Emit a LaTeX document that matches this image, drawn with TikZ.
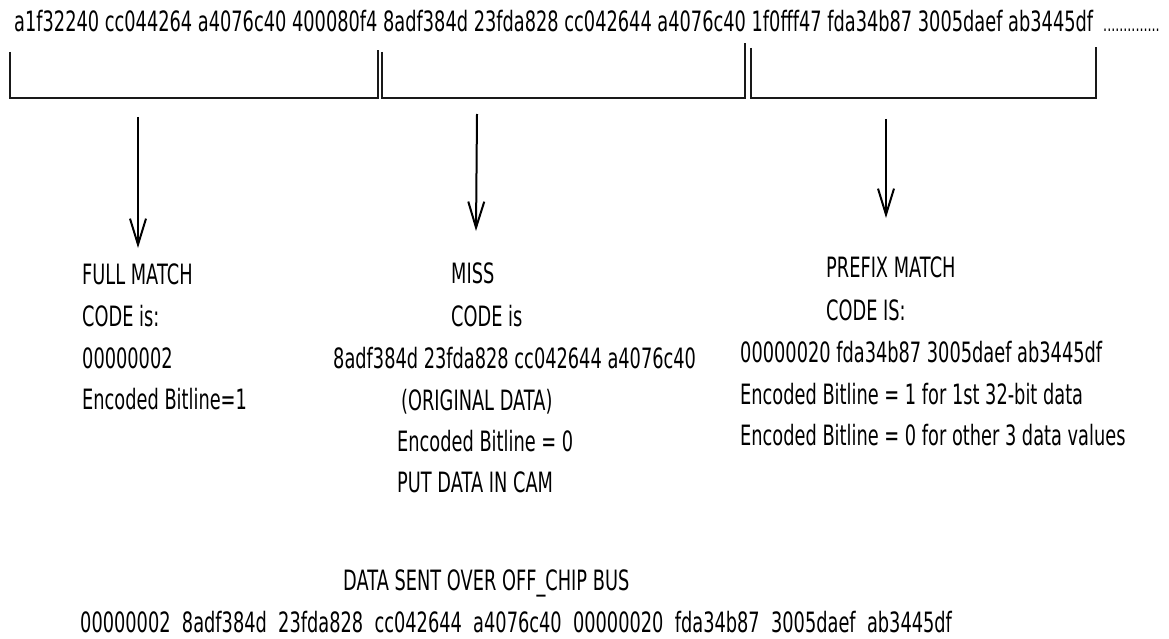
\documentclass[tikz,border=0pt]{standalone}
\usepackage{fontspec}
\setmainfont{DejaVu Sans}[FakeStretch=0.635]
\usetikzlibrary{arrows.meta}

\tikzset{
  txt/.style={anchor=base west, inner sep=0pt, font=\fontsize{28}{30}\selectfont},
  brk/.style={line width=2.8pt, line join=miter, black!90},
  down/.style={line width=2pt, -{Straight Barb[length=26pt,width=16pt,line width=2pt]}},
}

\begin{document}
\begin{tikzpicture}[x=1pt, y=-1pt]
  \useasboundingbox (0,0) rectangle (1169,639);

  % stream of 32-bit words
  \node[txt] (stream) at (14,32)
    {a1f32240 cc044264 a4076c40 400080f4 8adf384d 23fda828 cc042644 a4076c40 1f0fff47 fda34b87 3005daef ab3445df};
  \node[txt, font=\fontsize{20}{22}\selectfont] (more) at (1103,32) {..............};

  % groups of four words
  \draw[brk] (10,52) -- (10,98) -- (378,98) -- (378,50);
  \draw[brk] (382,52) -- (382,98) -- (745,98) -- (745,43);
  \draw[brk] (751,48) -- (751,98) -- (1096,98) -- (1096,47);

  % full match
  \coordinate (f1s) at (138,117);
  \coordinate (f1e) at (138,248);
  \node[txt] (full1) at (82,284) {FULL MATCH};
  \node[txt] (full2) at (82,326) {CODE is:};
  \node[txt] (full3) at (82,368) {00000002};
  \node[txt] (full4) at (82,409) {Encoded Bitline=1};

  % miss
  \coordinate (m1s) at (477,114);
  \coordinate (m1e) at (476,231);
  \node[txt] (miss1) at (451,283) {MISS};
  \node[txt] (miss2) at (451,326) {CODE is};
  \node[txt] (miss3) at (333,368) {8adf384d 23fda828 cc042644 a4076c40};
  \node[txt] (miss4) at (401,410) {(ORIGINAL DATA)};
  \node[txt] (miss5) at (397,451) {Encoded Bitline = 0};
  \node[txt] (miss6) at (397,492) {PUT DATA IN CAM};

  % prefix match
  \coordinate (p1s) at (886,119);
  \coordinate (p1e) at (886,218);
  \node[txt] (pre1) at (826,277) {PREFIX MATCH};
  \node[txt] (pre2) at (826,320) {CODE IS:};
  \node[txt] (pre3) at (740,362) {00000020 fda34b87 3005daef ab3445df};
  \node[txt] (pre4) at (740,404) {Encoded Bitline = 1 for 1st 32-bit data};
  \node[txt] (pre5) at (740,445) {Encoded Bitline = 0 for other 3 data values};

  \draw[down] (f1s) -- (f1e);
  \draw[down] (m1s) -- (m1e);
  \draw[down] (p1s) -- (p1e);

  % what goes out on the bus
  \node[txt] (bus) at (343,590) {DATA SENT OVER OFF\_CHIP BUS};
  \node[txt] (busdata) at (80,632)
    {00000002\ \ 8adf384d\ \ 23fda828\ \ cc042644\ \ a4076c40\ \ 00000020\ \ fda34b87\ \ 3005daef\ \ ab3445df};
\end{tikzpicture}
\end{document}
